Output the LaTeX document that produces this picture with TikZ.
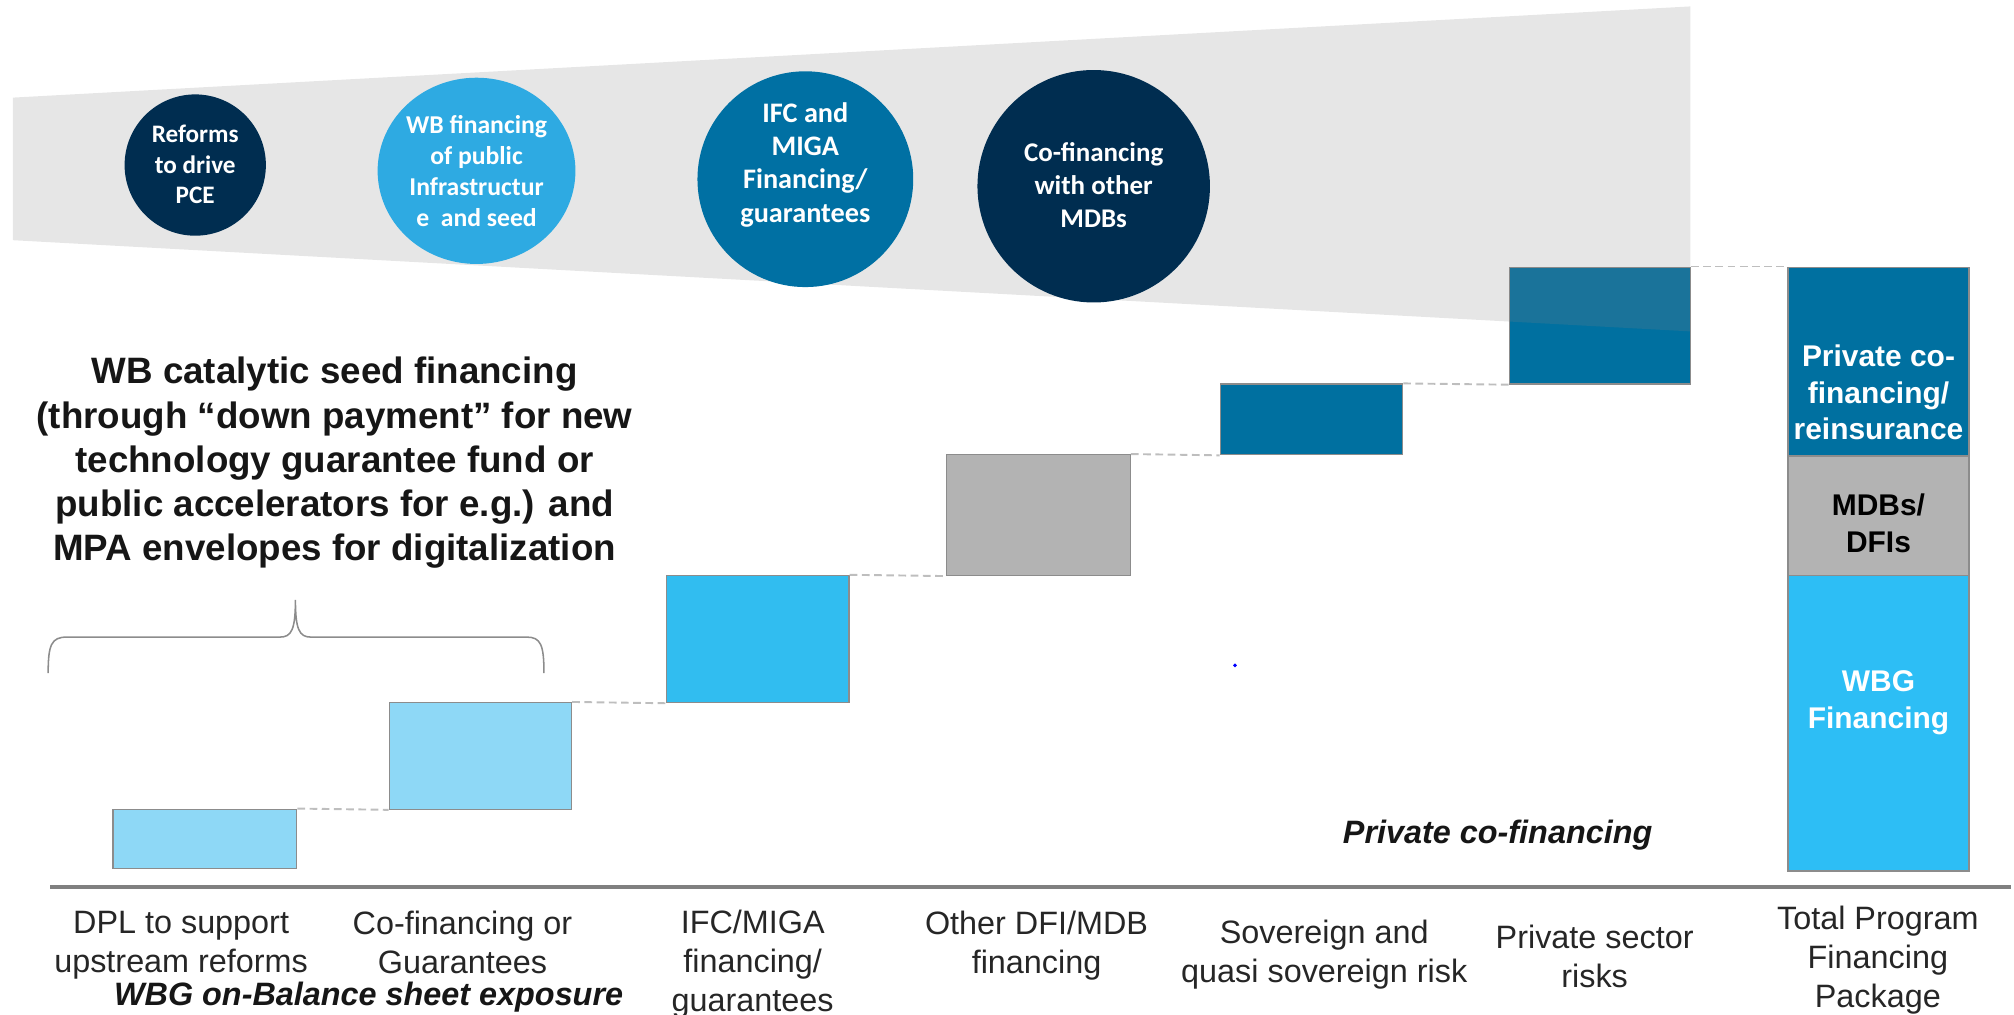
\documentclass[tikz,border=0pt]{standalone}
\usepackage{fontspec}
\setmainfont{Liberation Sans}
\newfontfamily\calibri{Carlito}
\usetikzlibrary{shapes.geometric}

\definecolor{navy}{RGB}{0,45,80}
\definecolor{skyblue}{RGB}{46,170,226}
\definecolor{seablue}{RGB}{0,112,163}
\definecolor{paleblue}{RGB}{142,216,246}
\definecolor{brightblue}{RGB}{49,189,240}
\definecolor{midgray}{RGB}{179,179,179}
\definecolor{deepblue}{RGB}{0,112,160}
\definecolor{wbgblue}{RGB}{45,190,245}
\definecolor{edgegray}{RGB}{140,140,140}
\definecolor{bracegray}{RGB}{140,140,140}
\definecolor{leadgray}{RGB}{190,190,190}
\definecolor{axisgray}{RGB}{128,128,128}
\definecolor{bandgray}{RGB}{130,130,130}
\definecolor{labelink}{RGB}{38,38,38}
\definecolor{headink}{RGB}{22,22,22}

\newcommand\fsz[2]{\fontsize{#1}{#2}\selectfont}

\begin{document}
\begin{tikzpicture}[x=1pt,y=-1pt,
  bubble/.style={ellipse, inner sep=0pt},
  bubbletext/.style={text=white, align=center, inner sep=0pt, anchor=north},
  bar/.style={rectangle, draw=edgegray, line width=1pt, inner sep=0pt},
  leader/.style={draw=leadgray, line width=1.5pt, dash pattern=on 6pt off 3.5pt},
  axislabel/.style={text=labelink, align=center, font=\fsz{25.2}{30.5}, inner sep=0pt, anchor=north},
  barlabel/.style={align=center, font=\bfseries\fsz{23.3}{28.7}, inner sep=0pt, anchor=north},
  groupnote/.style={text=headink, font=\bfseries\itshape\fsz{25.2}{30.5}, inner sep=0pt, anchor=north}
]
\useasboundingbox (0,0) rectangle (1568,790);

% waterfall steps
\node[bar, fill=paleblue,   minimum width=143pt, minimum height=46pt] (b1) at (159.5,653) {};
\node[bar, fill=paleblue,   minimum width=142pt, minimum height=83pt] (b2) at (374,588.5) {};
\node[bar, fill=brightblue, minimum width=142pt, minimum height=99pt] (b3) at (590,497.5) {};
\node[bar, fill=midgray,    minimum width=143pt, minimum height=94pt] (b4) at (808.5,401) {};
\node[bar, fill=deepblue,   minimum width=142pt, minimum height=55pt] (b5) at (1021,326.5) {};
\node[bar, fill=deepblue,   minimum width=141pt, minimum height=91pt] (b6) at (1245.5,253.5) {};

% total package bar
\node[bar, fill=deepblue, minimum width=141pt, minimum height=147pt] (t1) at (1462.5,281.5) {};
\node[bar, fill=midgray,  minimum width=141pt, minimum height=93pt]  (t2) at (1462.5,401.5) {};
\node[bar, fill=wbgblue,  minimum width=141pt, minimum height=230pt] (t3) at (1462.5,563) {};

% dashed leaders between the steps
\draw[leader] (b1.north east) -- (b2.south west);
\draw[leader] (b2.north east) -- (b3.south west);
\draw[leader] (b3.north east) -- (b4.south west);
\draw[leader] (b4.north east) -- (b5.south west);
\draw[leader] (b5.north east) -- (b6.south west);
\draw[leader] (b6.north east) -- (t1.north west);

% widening band behind the bubbles
\fill[bandgray, fill opacity=0.2] (10,76) -- (1316,5) -- (1316,258) -- (10,187) -- cycle;

% bubbles
\node[bubble, fill=navy,    minimum width=110pt, minimum height=110pt] (c1) at (152,128.5) {};
\node[bubble, fill=skyblue, minimum width=154pt, minimum height=145pt] (c2) at (371,133) {};
\node[bubble, fill=seablue, minimum width=168pt, minimum height=168pt] (c3) at (627,139.5) {};
\node[bubble, fill=navy,    minimum width=181pt, minimum height=181pt] (c4) at (851.5,145) {};

\node[bubbletext, font=\calibri\bfseries\fsz{19.6}{24}] (c1t) at (152,97) {Reforms\\to drive\\PCE};
\node[bubbletext, font=\calibri\bfseries\fsz{20}{24}] (c2t) at (371,90) {WB financing\\of public\\Infrastructur\\e~ and seed};
\node[bubbletext, font=\calibri\bfseries\fsz{22}{26}] (c3t) at (627,79.5) {IFC and\\MIGA\\Financing/\\guarantees};
\node[bubbletext, font=\calibri\bfseries\fsz{21}{25.5}] (c4t) at (851.5,111) {Co-financing\\with other\\MDBs};

% heading over the brace
\node[text=headink, align=center, font=\bfseries\fsz{28.6}{34.4}, inner sep=0pt, anchor=north] (head) at (260.5,278)
  {WB catalytic seed financing\\(through “down payment” for new\\technology guarantee fund or\\public accelerators for e.g.) and\\MPA envelopes for digitalization};

\draw[bracegray, line width=1.2pt] (37.5,524) .. controls (37.5,502) and (40,496) .. (52,496) -- (218,496)
  .. controls (227,496) and (230,490) .. (230,467)
  .. controls (230,490) and (233,496) .. (242,496) -- (410,496)
  .. controls (421,496) and (423.5,502) .. (423.5,524);

% labels inside the total bar
\node[barlabel, text=white] (t1t) at (1462.5,268) {Private co-\\financing/\\reinsurance};
\node[barlabel, text=black] (t2t) at (1462.5,384) {MDBs/\\DFIs};
\node[barlabel, text=white] (t3t) at (1462.5,522) {WBG\\Financing};

% stray marker
\fill[blue] (961.5,518) circle (1.5);

% axis
\draw[axisgray, line width=3pt] (39,690.5) -- (1566,690.5);

% category labels
\node[axislabel] (x1) at (141,709) {DPL to support\\upstream reforms};
\node[axislabel] (x2) at (360,709) {Co-financing or\\Guarantees};
\node[axislabel] (x3) at (586,708) {IFC/MIGA\\financing/\\guarantees};
\node[axislabel] (x4) at (807,709) {Other DFI/MDB\\financing};
\node[axislabel] (x5) at (1031,716) {Sovereign and\\quasi sovereign risk};
\node[axislabel] (x6) at (1241.5,720) {Private sector\\risks};
\node[axislabel] (x7) at (1462,705) {Total Program\\Financing\\Package};

\node[groupnote] (g1) at (287,764) {WBG on-Balance sheet exposure};
\node[groupnote] (g2) at (1166,638) {Private co-financing};
\end{tikzpicture}
\end{document}
